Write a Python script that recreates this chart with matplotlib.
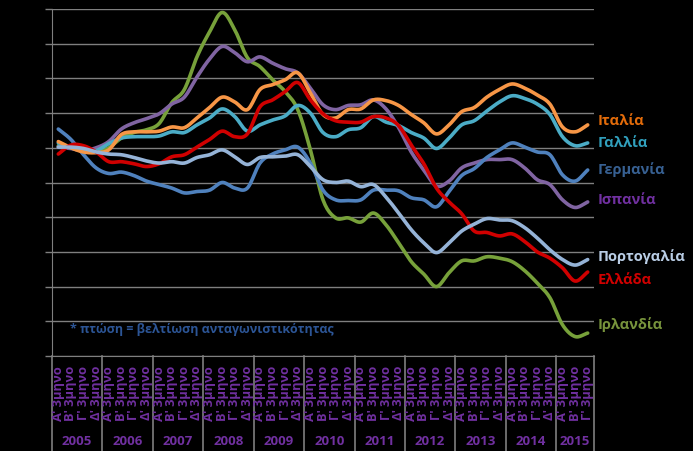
import numpy as np
import matplotlib
matplotlib.use("Agg")
import matplotlib.pyplot as plt
import matplotlib.transforms as mtransforms

plt.rcParams['font.family'] = ['Open Sans', 'DejaVu Sans']

years = ['2005', '2006', '2007', '2008', '2009', '2010', '2011', '2012', '2013', '2014', '2015']
quarter_names = ["Α' 3μηνο", "Β' 3μηνο", "Γ' 3μηνο", "Δ' 3μηνο"]
n_q = 43

italy = [100.9, 100.0, 99.4, 99.3, 99.7, 101.9, 102.3, 102.3, 102.4, 103.0, 102.9, 104.3, 105.8, 107.3,
         106.6, 105.5, 108.4, 109.1, 109.8, 110.8, 107.9, 104.8, 104.3, 105.5, 105.6, 106.9, 106.8, 106.1,
         104.8, 103.6, 102.0, 103.3, 105.2, 105.8, 107.3, 108.4, 109.2, 108.6, 107.6, 106.3, 103.0, 102.3, 103.3]
france = [100.7, 100.0, 99.7, 99.6, 100.6, 101.4, 101.6, 101.6, 101.7, 102.3, 102.2, 103.3, 104.3, 105.6,
          104.5, 102.4, 103.3, 104.0, 104.6, 106.1, 105.0, 102.2, 101.6, 102.6, 102.9, 104.5, 103.7, 103.2,
          102.2, 101.4, 99.9, 101.4, 103.3, 103.9, 105.3, 106.6, 107.5, 107.1, 106.3, 104.8, 101.6, 100.3, 100.7]
germany = [102.7, 101.2, 99.0, 97.1, 96.3, 96.5, 96.0, 95.2, 94.7, 94.2, 93.5, 93.7, 93.9, 95.0,
           94.2, 94.2, 97.8, 99.1, 99.7, 100.1, 97.8, 93.9, 92.5, 92.4, 92.5, 93.9, 93.9, 93.8,
           92.8, 92.5, 91.5, 93.7, 96.0, 97.0, 98.6, 99.7, 100.7, 100.1, 99.4, 99.0, 96.1, 95.2, 96.8]
spain = [100.1, 99.9, 99.6, 100.0, 100.9, 102.7, 103.6, 104.2, 104.9, 106.3, 107.3, 110.2, 112.8, 114.6,
         113.7, 112.4, 113.1, 112.2, 111.4, 110.8, 108.6, 106.2, 105.5, 106.1, 106.2, 106.9, 105.6, 102.9,
         99.4, 96.8, 94.5, 95.2, 97.1, 97.8, 98.3, 98.3, 98.3, 97.1, 95.4, 94.7, 92.5, 91.4, 92.2]
portugal = [100.1, 100.1, 99.9, 99.4, 99.1, 99.0, 98.6, 98.1, 97.8, 98.0, 97.8, 98.6, 99.0, 99.7,
            98.7, 97.6, 98.6, 98.7, 98.8, 99.0, 97.3, 95.4, 95.0, 95.2, 94.4, 94.7, 92.9, 90.6,
            88.2, 86.3, 84.9, 86.3, 88.0, 89.0, 89.8, 89.6, 89.5, 88.5, 87.0, 85.3, 83.9, 83.1, 83.9]
greece = [99.1, 100.4, 100.3, 99.4, 98.0, 98.0, 97.7, 97.3, 97.7, 98.7, 99.0, 100.1, 101.2, 102.4,
          101.6, 102.0, 105.9, 106.9, 108.1, 109.4, 106.9, 104.9, 103.9, 103.7, 103.7, 104.5, 104.3, 103.2,
          100.4, 97.7, 94.2, 92.2, 90.5, 88.0, 87.8, 87.3, 87.6, 86.5, 85.0, 84.1, 82.7, 80.8, 82.1]
ireland = [100.3, 100.0, 99.7, 99.4, 100.0, 101.4, 102.2, 102.6, 103.5, 106.5, 108.4, 113.1, 116.7, 119.5,
           117.0, 113.0, 111.7, 109.8, 108.1, 105.5, 99.7, 92.5, 89.9, 89.9, 89.3, 90.6, 88.9, 86.3,
           83.6, 81.8, 80.0, 82.0, 83.7, 83.7, 84.3, 84.1, 83.6, 82.3, 80.5, 78.4, 74.5, 72.8, 73.3]

series = [
    ('Ιρλανδία', ireland, '#77a13a', '#77933c', 74.6),
    ('Ισπανία', spain, '#8064a2', '#7030a0', 92.6),
    ('Γερμανία', germany, '#4f81bd', '#376092', 97.0),
    ('Γαλλία', france, '#4bacc6', '#31a0bd', 100.9),
    ('Ιταλία', italy, '#f79646', '#e46c0a', 104.0),
    ('Ελλάδα', greece, '#d00000', '#d00000', 81.1),
    ('Πορτογαλία', portugal, '#95b3d7', '#b9cde5', 84.4),
]


def smooth(vals, k=12):
    v = np.asarray(vals, float)
    n = len(v)
    p = np.concatenate([[2 * v[0] - v[1]], v, [2 * v[-1] - v[-2]]])
    xs, ys = [], []
    for i in range(n - 1):
        p0, p1, p2, p3 = p[i], p[i + 1], p[i + 2], p[i + 3]
        t = np.linspace(0, 1, k, endpoint=False)
        y = 0.5 * ((2 * p1) + (-p0 + p2) * t + (2 * p0 - 5 * p1 + 4 * p2 - p3) * t ** 2
                   + (-p0 + 3 * p1 - 3 * p2 + p3) * t ** 3)
        xs.append(i + t)
        ys.append(y)
    xs.append([n - 1])
    ys.append([v[-1]])
    return np.concatenate(xs), np.concatenate(ys)


W, H = 693, 452
fig = plt.figure(figsize=(W / 100, H / 100), dpi=100, facecolor='black')
L, R, T, B = 52, 594, 10, 357
ax = fig.add_axes([L / W, 1 - B / H, (R - L) / W, (B - T) / H])
ax.set_facecolor('black')
ax.set_xlim(-0.5, n_q - 0.5)
ax.set_ylim(70, 120)
ax.set_yticks(np.arange(70, 121, 5))
ax.set_xticks([])
ax.yaxis.grid(True, color='#7f7f7f', lw=1)
ax.set_axisbelow(True)
ax.tick_params(axis='y', length=5, color='#7f7f7f', width=1, labelleft=False)
for s in ['top', 'right']:
    ax.spines[s].set_visible(False)
ax.spines['left'].set_color('#7f7f7f')
ax.spines['bottom'].set_color('#7f7f7f')

for name, vals, lc, tc, ly in series:
    xs, ys = smooth(vals)
    ax.plot(xs, ys, color=lc, lw=2.6, solid_capstyle='round')
    ax.text(n_q - 0.5 + 0.3, ly, name, color=tc, fontsize=10.5, fontweight='bold',
            va='center', ha='left', clip_on=False)

trans = mtransforms.blended_transform_factory(ax.transData, ax.transAxes)
axh = (B - T)
bottom_ax = -(H - B) / axh
bounds = list(np.arange(-0.5, n_q, 4)) + [n_q - 0.5]
for xb in bounds:
    ax.plot([xb, xb], [0, bottom_ax], transform=trans, color='#7f7f7f', lw=1.2, clip_on=False)

for i in range(n_q):
    ax.text(i, -(366 - B) / axh, quarter_names[i % 4], transform=trans, rotation=90,
            ha='center', va='top', color='#7030a0', fontsize=9.3, fontweight='bold', clip_on=False)

for j, yr in enumerate(years):
    start = j * 4
    end = min(start + 4, n_q)
    ax.text((start + end - 1) / 2, -(442 - B) / axh, yr, transform=trans, ha='center', va='center',
            color='#7030a0', fontsize=9.5, fontweight='bold', clip_on=False)

ax.text(0.9, 74.0, '* πτώση = βελτίωση ανταγωνιστικότητας', color='#2c5596', fontsize=9,
        fontweight='bold', ha='left', va='center')

fig.savefig('out.png', dpi=100, facecolor='black')
